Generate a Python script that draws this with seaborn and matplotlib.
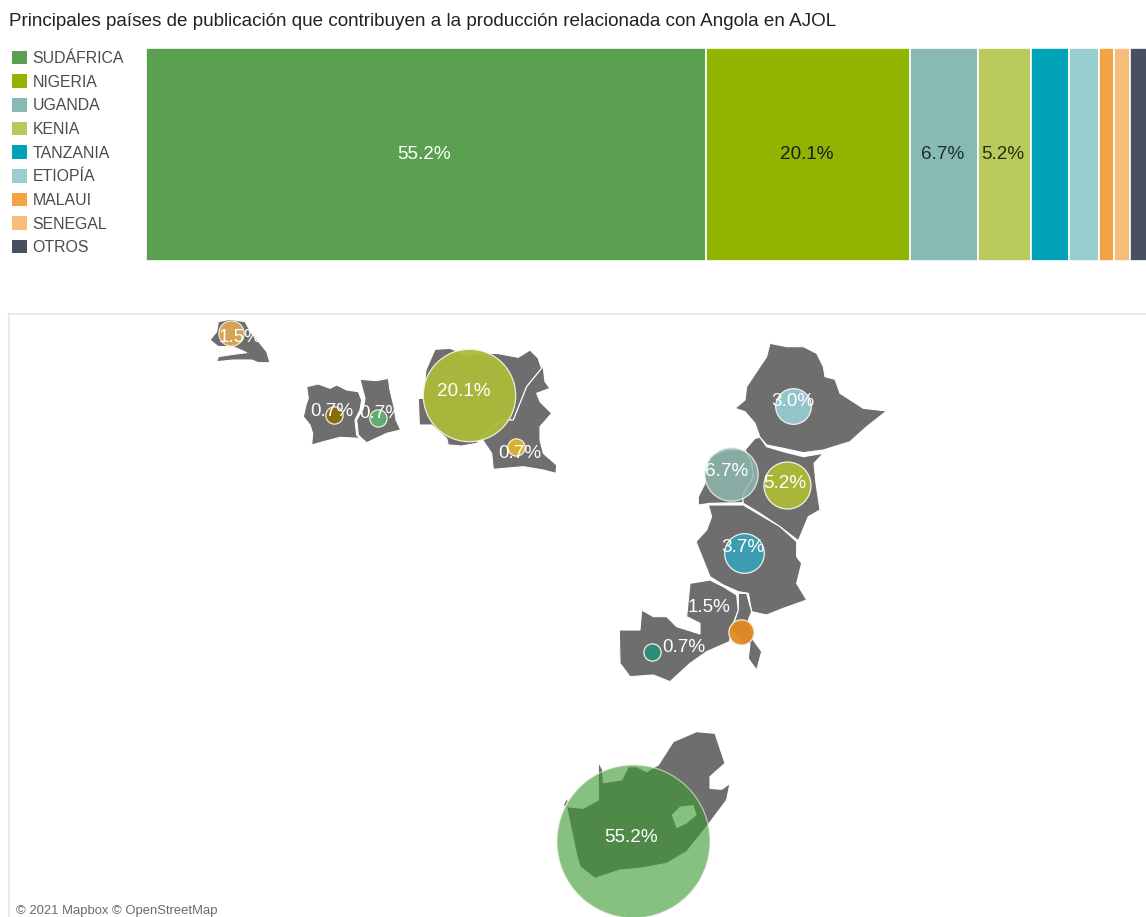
import numpy as np
import pandas as pd
import matplotlib
matplotlib.use("Agg")
import matplotlib.pyplot as plt
from matplotlib.patches import Patch
import seaborn as sns

TITLE = "Principales países de publicación que contribuyen a la producción relacionada con Angola en AJOL"
paises = ["SUDÁFRICA", "NIGERIA", "UGANDA", "KENIA", "TANZANIA", "ETIOPÍA", "MALAUI", "SENEGAL", "OTROS"]
pct = [55.2, 20.1, 6.7, 5.2, 3.7, 3.0, 1.5, 1.5, 2.9]
colores = ["#5aa050", "#90b400", "#88bab5", "#b9c95c", "#00a2b8", "#98ced0", "#f2a444", "#f5bd78", "#475060"]
bar_labels = {"SUDÁFRICA": ("55.2%", "white"), "NIGERIA": ("20.1%", "#1c1c1c"),
              "UGANDA": ("6.7%", "#1c2c30"), "KENIA": ("5.2%", "#26300c")}

# outlines, in crop pixels of the two zoomed map regions
west = dict(origin=(190, 310), shapes=[
    [(85,35),(120,28),(165,35),(185,70),(210,100),(230,125),(240,158),(205,158),(185,150),(130,150),(80,155),(85,140),(130,133),(170,128),(130,110),(85,110),(60,90),(80,65)],
    [(350,230),(385,222),(420,235),(440,225),(470,240),(505,245),(515,270),(510,300),(495,330),(500,375),(510,385),(450,382),(400,395),(365,405),(368,370),(360,345),(340,320),(348,285),(355,265)],
    [(510,208),(560,212),(595,205),(600,240),(612,290),(618,330),(632,360),(590,370),(530,398),(515,385),(505,375),(500,330),(520,295),(525,265)],
    [(735,118),(780,115),(830,135),(920,130),(985,142),(1020,120),(1045,145),(1055,175),(1010,230),(970,330),(935,330),(875,385),(860,400),(815,408),(775,405),(770,385),(725,345),(688,345),(685,265),(700,265),(708,180)],
    [(1045,145),(1060,175),(1065,215),(1080,235),(1040,250),(1050,275),(1085,310),(1050,350),(1050,390),(1060,430),(1100,465),(1098,490),(1060,480),(1000,470),(910,478),(905,430),(875,385),(935,330),(970,330),(1010,230),(1055,175)],
])
east = dict(origin=(610, 330), shapes=[
    [(480,40),(530,50),(580,50),(620,70),(640,110),(645,140),(675,148),(690,190),(760,235),(830,243),(770,290),(720,335),(640,360),(580,368),(520,355),(470,345),(450,322),(435,280),(405,245),(375,235),(405,210),(410,170),(450,110),(470,80)],
    [(435,325),(450,322),(470,350),(520,365),(580,380),(640,370),(612,400),(618,460),(630,540),(595,560),(565,632),(510,590),(450,550),(400,520),(395,500),(430,440),(425,400),(405,360)],
    [(300,380),(350,360),(405,360),(425,400),(430,440),(400,490),(398,518),(300,520),(265,525),(265,500),(285,460),(285,420)],
    [(295,525),(400,525),(510,590),(560,635),(560,680),(575,700),(560,760),(590,810),(520,835),(470,855),(425,845),(415,790),(385,785),(340,765),(300,740),(258,635),(290,600),(305,560)],
    [(240,760),(300,750),(340,770),(380,795),(385,840),(370,880),(358,935),(290,965),(240,1000),(180,1055),(130,1035),(60,1040),(30,1000),(28,900),(90,900),(95,840),(130,860),(170,860),(200,890),(270,912),(270,880),(230,860),(235,810)],
    [(385,790),(410,790),(425,845),(415,870),(430,930),(455,965),(440,1020),(425,1000),(415,985),(420,940),(400,940),(365,900),(385,840)],
])
south = dict(origin=(540, 720), shapes=[
    [(175,125),(188,150),(190,188),(245,180),(265,140),(290,140),(320,155),(355,135),(400,65),(470,35),(525,40),(545,100),(555,130),(510,170),(510,205),(545,208),(570,190),(560,240),(500,320),(440,395),(380,430),(300,445),(240,450),(165,475),(120,440),(110,405),(90,310),(80,260),(130,265),(175,240)],
    [(70,255),(82,232),(84,245),(75,262)],
])
lesotho = [(395,285),(420,260),(460,255),(470,285),(440,310),(410,325)]

burbuja_pct = [1.5, 0.7, 0.7, 20.1, 0.7, 3.0, 6.7, 5.2, 3.7, 1.5, 0.7, 55.2]
burbuja_x = [231, 334, 378, 469, 516, 793, 731, 787, 744, 741, 652, 633]
burbuja_y = [333, 415, 418, 395, 447, 406, 474, 485, 553, 632, 652, 841]
burbuja_color = ["#e2a850", "#8a6c10", "#62b070", "#adbb3a", "#d8b030", "#93c3cb", "#8db8ad", "#a9b63a", "#3c9cb2", "#e28a20", "#2f8a78", "#3c9b32"]
burbuja_alpha = [0.9, 1, 0.95, 0.95, 1, 1, 0.85, 1, 1, 0.95, 1, 0.62]
texto_x = [240, 332, 381, 464, 520, 793, 727, 785, 743, 709, 684, 631]
texto_y = [337, 412, 414, 392, 454, 402, 471, 483, 547, 607, 647, 838]
texto = ["1.5%", "0.7%", "0.7%", "20.1%", "0.7%", "3.0%", "6.7%", "5.2%", "3.7%", "1.5%", "0.7%", "55.2%"]

W, H = 1146, 917
sns.set_theme(style="white")
plt.rcParams["font.family"] = ["Liberation Sans", "DejaVu Sans"]
fig = plt.figure(figsize=(W / 100, H / 100), dpi=100, facecolor="white")

def rect(x0, y0, x1, y1):
    return [x0 / W, 1 - y1 / H, (x1 - x0) / W, (y1 - y0) / H]

# stacked bar (histplot stacks the last hue level first)
ax = fig.add_axes(rect(146, 48, 1146, 261))
df = pd.DataFrame({"fila": 0, "pais": paises, "pct": pct})
sns.histplot(data=df, y="fila", hue="pais", hue_order=paises[::-1], weights="pct", multiple="stack",
             discrete=True, shrink=1, palette=dict(zip(paises, colores)), alpha=1,
             edgecolor="white", linewidth=1.2, legend=False, ax=ax)
ax.set_xlim(0, 1000 / 10.15)
ax.set_ylim(-0.5, 0.5)
ax.axis("off")
cum = np.cumsum([0] + pct)
for i, p in enumerate(paises):
    if p in bar_labels:
        t, c = bar_labels[p]
        ax.text(cum[i] + pct[i] / 2 - 0.2, 0.0, t, ha="center", va="center", color=c, fontsize=13.6)

fig.text(9 / W, 1 - 21 / H, TITLE, ha="left", va="center", fontsize=13.55, color="#222222")
handles = [Patch(facecolor=c, edgecolor="none", label=p) for p, c in zip(paises, colores)]
fig.legend(handles=handles, loc="upper left", bbox_to_anchor=(6 / W, 1 - 44.5 / H), frameon=False,
           fontsize=11.4, handlelength=0.93, handleheight=0.93, handletextpad=0.33, labelspacing=0.535,
           borderpad=0.4, borderaxespad=0, labelcolor="#4a4a52")

# map panel
mp = fig.add_axes(rect(8, 313, 1146, 917))
mp.set_xlim(8, 1146)
mp.set_ylim(917, 313)
mp.axis("off")
mp.plot([8, 1146], [313.5, 313.5], color="#e6e6e6", lw=1.2, clip_on=False)
mp.plot([8.5, 8.5], [313, 917], color="#e6e6e6", lw=1.2, clip_on=False)
for region in (west, east, south):
    ox, oy = region["origin"]
    for s in region["shapes"]:
        xy = np.array(s) / 3 + (ox, oy)
        mp.fill(xy[:, 0], xy[:, 1], facecolor="#6e6e6e", edgecolor="white", lw=0.8, joinstyle="round", zorder=2)
xy = np.array(lesotho) / 3 + south["origin"]
mp.fill(xy[:, 0], xy[:, 1], facecolor="white", edgecolor="none", zorder=2.5)

for x, y, p, c, a in zip(burbuja_x, burbuja_y, burbuja_pct, burbuja_color, burbuja_alpha):
    r = 10.3 * np.sqrt(p)
    sns.scatterplot(x=[x], y=[y], s=(2 * r * 0.72) ** 2, color=c, alpha=a, edgecolor="#f2f2e8",
                    linewidth=0.9, ax=mp, zorder=3, legend=False, clip_on=False)
mp.set_xlim(8, 1146)
mp.set_ylim(917, 313)
for x, y, t in zip(texto_x, texto_y, texto):
    mp.text(x, y, t, ha="center", va="center", color="white", fontsize=13.6, zorder=4)
mp.text(16, 911, "© 2021 Mapbox © OpenStreetMap", ha="left", va="center", color="#6a6a6a", fontsize=9.4, zorder=4)

fig.savefig("out.png", dpi=100, facecolor="white")
